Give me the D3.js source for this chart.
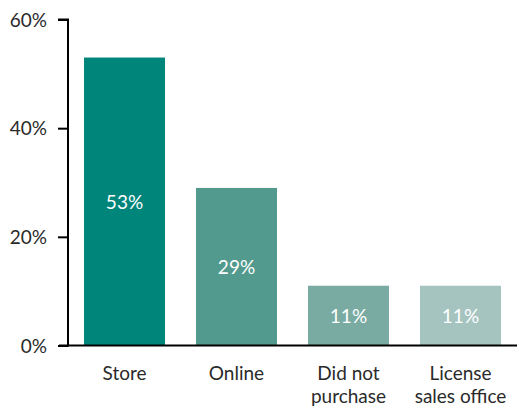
<!DOCTYPE html>
<html><head><meta charset="utf-8">
<script src="https://cdn.jsdelivr.net/npm/d3@7"></script>
<style>body{margin:0;background:#fff;}svg{display:block;font-family:Lato,"Open Sans",sans-serif;}</style>
</head><body><svg width="519" height="406"></svg>
<script>
const categories = [["Store"], ["Online"], ["Did not", "purchase"], ["License", "sales office"]];
const values = [53, 29, 11, 11];
const colors = ["#00857a", "#529a8e", "#79aba3", "#a5c4c0"];
const yTicks = [0, 20, 40, 60];

const svg = d3.select("svg");
const x = d3.scaleBand().domain(d3.range(values.length)).range([68, 517]).paddingInner(0.277).paddingOuter(0.143);
const y = d3.scaleLinear().domain([0, 60]).range([345.5, 19.5]);

svg.selectAll("rect.bar").data(values).join("rect")
  .attr("x", (d, i) => x(i)).attr("width", x.bandwidth())
  .attr("y", d => y(d)).attr("height", d => y(0) - y(d))
  .attr("fill", (d, i) => colors[i]);

svg.selectAll("text.val").data(values).join("text")
  .attr("x", (d, i) => x(i) + x.bandwidth() / 2)
  .attr("y", d => (y(d) + y(0)) / 2 + 7.5)
  .attr("text-anchor", "middle").attr("fill", "#fff").attr("font-size", 19)
  .text(d => d + "%");

// y axis
const yAxis = d3.axisLeft(y).tickValues(yTicks).tickFormat(d => d + "%").tickSize(10).tickPadding(11);
const gy = svg.append("g").attr("transform", "translate(68,0)").call(yAxis);
gy.select(".domain").attr("stroke", "#000").attr("stroke-width", 2).attr("d", "M-10,19.5H0V346.5");
gy.selectAll(".tick line").attr("stroke", "#000").attr("stroke-width", 2);
gy.selectAll(".tick text").attr("font-size", 19).attr("fill", "#2a2a2a").attr("font-family", "Lato, sans-serif").attr("dy", "0.35em");

// x baseline
svg.append("line").attr("x1", 59).attr("x2", 517).attr("y1", y(0)).attr("y2", y(0)).attr("stroke", "#000").attr("stroke-width", 2);

// category labels
const cl = svg.selectAll("text.cat").data(categories).join("text")
  .attr("text-anchor", "middle").attr("font-size", 19).attr("fill", "#2a2a2a");
cl.each(function(lines, i) {
  d3.select(this).selectAll("tspan").data(lines).join("tspan")
    .attr("x", x(i) + x.bandwidth() / 2)
    .attr("y", (d, j) => 380 + j * 23)
    .text(d => d);
});
</script></body></html>
